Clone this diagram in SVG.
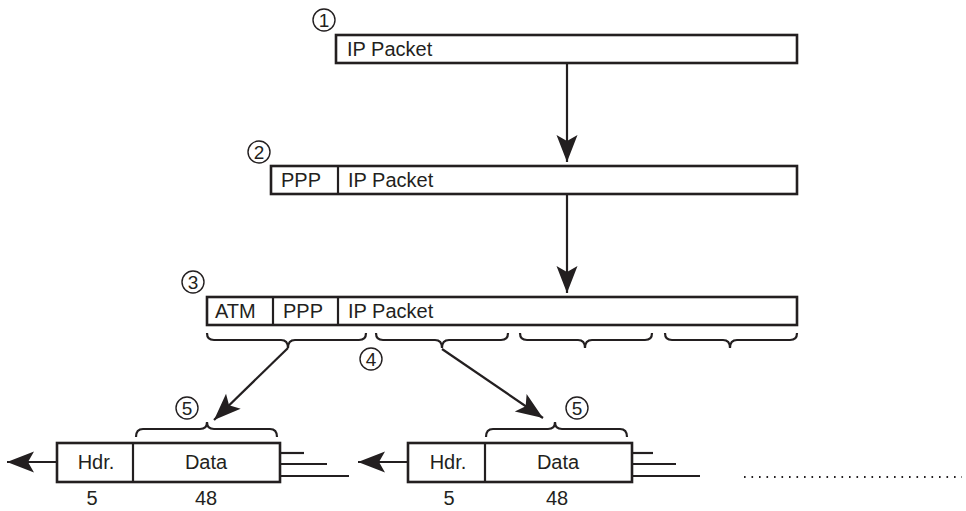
<svg xmlns="http://www.w3.org/2000/svg" width="966" height="511" viewBox="0 0 966 511">
<defs>
<style>
.box{fill:#fff;stroke:#231f20;stroke-width:2.6}
.div{stroke:#231f20;stroke-width:2.2}
.t{font-family:"Liberation Sans",Arial,sans-serif;font-size:20px;fill:#231f20}
.c{font-family:"Liberation Sans",Arial,sans-serif;font-size:19px;fill:#231f20;text-anchor:middle}
.circ{fill:none;stroke:#231f20;stroke-width:1.4}
.brace{fill:none;stroke:#231f20;stroke-width:2.2}
.ln{fill:none;stroke:#231f20;stroke-width:2.2}
.arr{fill:none;stroke:#231f20;stroke-width:2.2;marker-end:url(#ah)}
.mid{text-anchor:middle}
</style>
<marker id="ah" markerUnits="userSpaceOnUse" viewBox="-28 -12 30 24" refX="0" refY="0" markerWidth="30" markerHeight="24" orient="auto">
<path d="M0,0 L-27,-10.5 L-21,0 L-27,10.5 Z" fill="#231f20"/>
</marker>
</defs>

<g id="connectors">
<line class="arr" x1="567" y1="63" x2="567" y2="162"/>
<line class="arr" x1="567" y1="194" x2="567" y2="293"/>
<line class="arr" x1="288" y1="348" x2="214" y2="420"/>
<line class="arr" x1="442" y1="349" x2="543" y2="418"/>
<line class="arr" x1="57" y1="462" x2="7" y2="462"/>
<line class="arr" x1="408" y1="462" x2="358" y2="462"/>
</g>

<g id="step1">
<circle class="circ" cx="324" cy="20" r="11"/>
<text class="c" x="324" y="26.8">1</text>
<rect class="box" x="336" y="35" width="461" height="28"/>
<text class="t" x="347" y="56">IP Packet</text>
</g>

<g id="step2">
<circle class="circ" cx="259" cy="152" r="11"/>
<text class="c" x="259" y="158.8">2</text>
<rect class="box" x="271" y="166" width="526" height="28"/>
<line class="div" x1="338" y1="166" x2="338" y2="194"/>
<text class="t" x="281" y="187">PPP</text>
<text class="t" x="348" y="187">IP Packet</text>
</g>

<g id="step3">
<circle class="circ" cx="193" cy="282" r="11"/>
<text class="c" x="193" y="288.8">3</text>
<rect class="box" x="207" y="297" width="590" height="28"/>
<line class="div" x1="273" y1="297" x2="273" y2="325"/>
<line class="div" x1="338" y1="297" x2="338" y2="325"/>
<text class="t" x="215" y="318">ATM</text>
<text class="t" x="283" y="318">PPP</text>
<text class="t" x="348" y="318">IP Packet</text>
</g>

<g id="braces">
<path class="brace" d="M207,333 Q207,340 214,340 L281,340 Q288,340 288,348 Q288,340 295,340 L359,340 Q366,340 366,333"/>
<path class="brace" d="M376,333 Q376,340 383,340 L435,340 Q442,340 442,348 Q442,340 449,340 L501,340 Q508,340 508,333"/>
<path class="brace" d="M520,333 Q520,340 527,340 L578,340 Q585,340 585,348 Q585,340 592,340 L645,340 Q652,340 652,333"/>
<path class="brace" d="M665,333 Q665,340 672,340 L723,340 Q730,340 730,348 Q730,340 737,340 L790,340 Q797,340 797,333"/>
</g>

<g id="step4">
<circle class="circ" cx="371" cy="359" r="11"/>
<text class="c" x="371" y="365.8">4</text>
</g>

<g id="cell1">
<circle class="circ" cx="187" cy="408" r="11"/>
<text class="c" x="187" y="414.8">5</text>
<path class="brace" d="M136,437 Q136,429 143,429 L200,429 Q207,429 207,422 Q207,429 214,429 L270,429 Q277,429 277,437"/>
<rect class="box" x="57" y="443" width="223" height="39"/>
<line class="div" x1="133" y1="443" x2="133" y2="482"/>
<text class="t mid" x="96" y="469">Hdr.</text>
<text class="t mid" x="206" y="469">Data</text>
<line class="ln" x1="280" y1="453" x2="304" y2="453"/>
<line class="ln" x1="280" y1="464" x2="327" y2="464"/>
<line class="ln" x1="280" y1="476" x2="349" y2="476"/>
<text class="t mid" x="92" y="505">5</text>
<text class="t mid" x="206" y="505">48</text>
</g>

<g id="cell2">
<circle class="circ" cx="577" cy="408" r="11"/>
<text class="c" x="577" y="414.8">5</text>
<path class="brace" d="M486,437 Q486,429 493,429 L548,429 Q555,429 555,422 Q555,429 562,429 L620,429 Q627,429 627,437"/>
<rect class="box" x="408" y="443" width="224" height="39"/>
<line class="div" x1="485" y1="443" x2="485" y2="482"/>
<text class="t mid" x="448" y="469">Hdr.</text>
<text class="t mid" x="558" y="469">Data</text>
<line class="ln" x1="632" y1="453" x2="653" y2="453"/>
<line class="ln" x1="632" y1="464" x2="676" y2="464"/>
<line class="ln" x1="632" y1="476" x2="700" y2="476"/>
<text class="t mid" x="449" y="505">5</text>
<text class="t mid" x="557" y="505">48</text>
</g>

<g id="ellipsis">
<line x1="744" y1="477" x2="962" y2="477" stroke="#231f20" stroke-width="2" stroke-dasharray="1.6 5.9"/>
</g>
</svg>
